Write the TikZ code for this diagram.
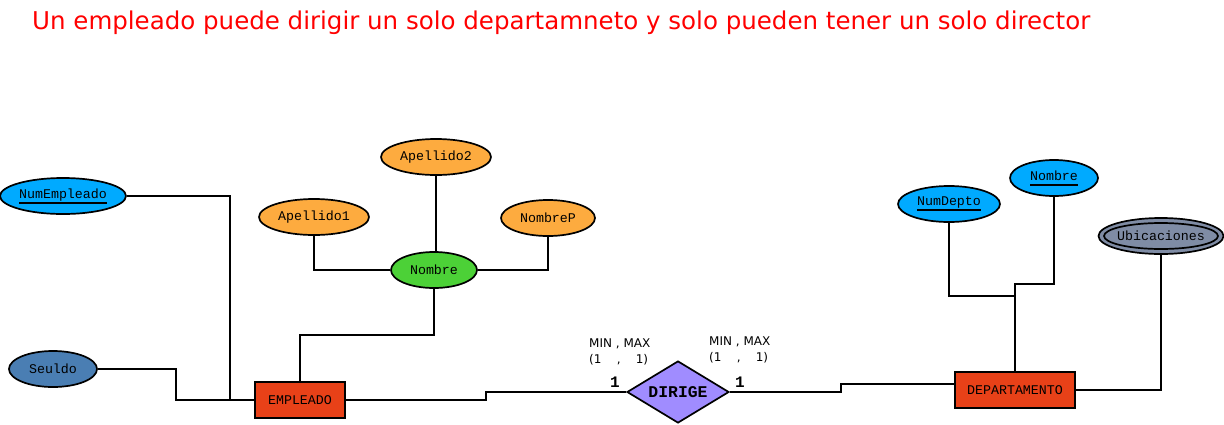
\documentclass[tikz,border=0pt]{standalone}
\usepackage{fontspec}
\usetikzlibrary{shapes.geometric}
\newfontfamily\monof{Liberation Mono}
\newfontfamily\sansf{DejaVu Sans}
\newcommand\keyul[1]{\setbox0\hbox{#1}\rlap{\rule[-5.5pt]{\wd0}{1.8pt}}\box0}
\definecolor{keyblue}{HTML}{00AAFF}
\definecolor{steel}{HTML}{4A7EB3}
\definecolor{entred}{HTML}{E84118}
\definecolor{attgreen}{HTML}{4CD137}
\definecolor{attorange}{HTML}{FDAB3F}
\definecolor{relpurple}{HTML}{A08CFF}
\definecolor{multigray}{HTML}{7F8CA5}
\tikzset{
  attr/.style={ellipse, draw=black, line width=1.7pt, inner sep=0pt, minimum height=36pt, font=\monof\fontsize{13.3}{15}\selectfont},
  ent/.style={rectangle, draw=black, line width=1.7pt, fill=entred, inner sep=0pt, minimum height=36pt, font=\monof\fontsize{13.3}{15}\selectfont},
  rel/.style={diamond, draw=black, line width=1.7pt, fill=relpurple, inner sep=0pt, minimum width=102pt, minimum height=62pt, aspect=1.6, font=\monof\bfseries\fontsize{16.4}{18}\selectfont},
  conn/.style={line width=1.7pt, draw=black},
  card/.style={font=\sansf\fontsize{12}{14}\selectfont, anchor=base west, inner sep=0pt},
  cardnum/.style={font=\monof\bfseries\fontsize{16}{18}\selectfont, anchor=base, inner sep=0pt}
}
\begin{document}
\begin{tikzpicture}[x=1pt,y=-1pt]
\useasboundingbox (0,0) rectangle (1224,424);
% title
\node[anchor=base west, inner sep=0pt, text=red, font=\sansf\fontsize{24.5}{27}\selectfont] (title) at (32,29) {Un empleado puede dirigir un solo departamneto y solo pueden tener un solo director};
% entities
\node[ent, minimum width=90pt] (emp) at (300,400) {EMPLEADO};
\node[ent, minimum width=120pt] (dep) at (1015,390) {DEPARTAMENTO};
% relationship
\node[rel] (dir) at (678,392) {DIRIGE};
% attributes
\node[attr, fill=keyblue, minimum width=126pt] (numemp) at (63,196) {\keyul{NumEmpleado}};
\node[attr, fill=steel, minimum width=88pt] (sueldo) at (53,369) {Seuldo};
\node[attr, fill=attgreen, minimum width=86pt] (nombre) at (434,270) {Nombre};
\node[attr, fill=attorange, minimum width=110pt] (ap1) at (314,217) {Apellido1};
\node[attr, fill=attorange, minimum width=110pt] (ap2) at (436,157) {Apellido2};
\node[attr, fill=attorange, minimum width=94pt] (nomp) at (548,218) {NombreP};
\node[attr, fill=keyblue, minimum width=102pt] (numdep) at (949,204) {\keyul{NumDepto}};
\node[attr, fill=keyblue, minimum width=88pt] (nomdep) at (1054,178) {\keyul{Nombre}};
\node[attr, fill=multigray, minimum width=125pt] (ubi) at (1161,236) {Ubicaciones};
\draw[line width=1.7pt] (ubi.center) ellipse (57pt and 13pt);
% junction coordinates
\coordinate (j1) at (230,400);
\coordinate (j2) at (176,400);
\coordinate (j3) at (300,335);
\coordinate (j4) at (486,400);
\coordinate (j5) at (841,384);
\coordinate (j6) at (1015,296);
\coordinate (j7) at (1015,284);
% connectors
\draw[conn] (numemp.east) -| (j1) -- (emp.west);
\draw[conn] (sueldo.east) -| (j2) -- (j1);
\draw[conn] (emp.north) -- (j3) -| (nombre.south);
\draw[conn] (ap1.south) |- (nombre.west);
\draw[conn] (ap2.south) -- (ap2.south |- nombre.north);
\draw[conn] (nomp.south) |- (nombre.east);
\draw[conn] (emp.east) -| (j4) |- (dir.west);
\draw[conn] (dir.east) -| (j5) -- (dep.west |- j5);
\draw[conn] (numdep.south) |- (j6) -- (dep.north);
\draw[conn] (nomdep.south) |- (j7) -- (j6);
\draw[conn] (dep.east) -| (ubi.south);
% cardinality labels
\node[card] (mm1) at (589,347) {MIN , MAX};
\node[card] (pp1) at (589,363) {(1\ \ \ \ ,\ \ \ \ 1)};
\node[cardnum] (c1) at (615,387) {1};
\node[card] (mm2) at (709,345) {MIN , MAX};
\node[card] (pp2) at (709,361) {(1\ \ \ \ ,\ \ \ \ 1)};
\node[cardnum] (c2) at (740,387) {1};
\end{tikzpicture}
\end{document}
